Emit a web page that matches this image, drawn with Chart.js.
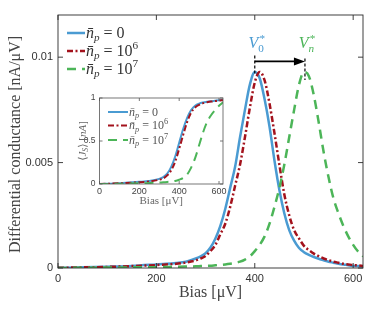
<!DOCTYPE html>
<html><head><meta charset="utf-8">
<script src="https://cdn.jsdelivr.net/npm/chart.js@4/dist/chart.umd.min.js"></script>
<style>
html,body{margin:0;padding:0;background:#fff;width:374px;height:312px;overflow:hidden}
#wrap{position:relative;width:374px;height:312px}
#main{position:absolute;left:0;top:0}
#inset{position:absolute;left:56px;top:88px}
</style></head><body>
<div id="wrap"><canvas id="main" width="374" height="312"></canvas><canvas id="inset" width="180" height="122"></canvas></div>
<script>
// ---------- data ----------
const bias = [0,50,100,150,200,220,240,260,280,290,300,310,320,330,340,350,360,370,380,390,400,410,420,430,440,450,460,470,480,490,500,510,520,530,540,550,560,570,580,590,600,610,620];
const condN0 = [0.00001,0.00003,0.00006,0.0001,0.00017,0.0002,0.00024,0.0003,0.00045,0.00055,0.0007,0.00097,0.0014,0.002,0.0028,0.0038,0.0048,0.0062,0.0075,0.0087,0.0093,0.0090,0.0080,0.0067,0.0051,0.0037,0.0026,0.0018,0.0013,0.00095,0.00075,0.00062,0.00052,0.00044,0.00037,0.0003,0.00025,0.0002,0.00017,0.00013,0.0001,0.00009,0.00007];
const condN6 = [0.00001,0.00003,0.00005,0.00009,0.00014,0.00017,0.0002,0.00026,0.00036,0.00045,0.00057,0.0008,0.0011,0.0016,0.0021,0.0029,0.0039,0.0049,0.0062,0.0076,0.0088,0.0093,0.0089,0.0078,0.0064,0.0049,0.0035,0.0025,0.0018,0.0014,0.00105,0.00085,0.00068,0.00056,0.00045,0.00037,0.0003,0.00025,0.0002,0.00017,0.00014,0.00012,0.0001];
const condN7 = [0,0.00001,0.00002,0.00003,0.00004,0.00005,0.00006,0.00007,0.00008,0.00009,0.0001,0.00011,0.00013,0.00015,0.00017,0.0002,0.00024,0.0003,0.0004,0.00055,0.0008,0.0011,0.0015,0.0021,0.0029,0.0038,0.0049,0.0062,0.0075,0.0087,0.0093,0.0091,0.0082,0.0069,0.0055,0.0043,0.0033,0.0026,0.002,0.0015,0.0011,0.00078,0.00055];

const insetBias = [0,100,200,250,300,320,340,360,380,400,420,440,460,480,500,520,540,560,580,600,620];
const currN0 = [0,0.01,0.025,0.035,0.06,0.08,0.12,0.2,0.32,0.48,0.64,0.77,0.86,0.91,0.935,0.948,0.956,0.963,0.968,0.973,0.977];
const currN6 = [0,0.008,0.02,0.03,0.05,0.065,0.1,0.16,0.26,0.41,0.57,0.72,0.83,0.89,0.92,0.94,0.95,0.958,0.964,0.97,0.975];
const currN7 = [0,0.003,0.008,0.012,0.017,0.02,0.024,0.029,0.036,0.05,0.07,0.11,0.19,0.3,0.45,0.6,0.72,0.8,0.86,0.91,0.95];

const seriesNames = ['n\u0304_p = 0','n\u0304_p = 10^6','n\u0304_p = 10^7'];
const xTicks = [0,200,400,600];
const xTickLabels = ['0','200','400','600'];
const yTicks = [0,0.005,0.01];
const yTickLabels = ['0','0.005','0.01'];
const insetYTicks = [0,0.5,1];
const insetYTickLabels = ['0','0.5','1'];
const peakBias = [400,502];
const peakCond = [0.0093,0.0093];
const peakLabels = ['V_0^*','V_n^*'];
const arrowCond = 0.0098;

// ---------- styles ----------
const COLORS = ['#4a9bd2','#a3121c','#4cb558'];
const DASHES = [[],[6,2.5,2,2.5],[9,6]];
const SERIF = '"Liberation Serif","DejaVu Serif",serif';
const SANS = '"Liberation Sans",Arial,sans-serif';

function parseRich(str){
  const parts=[]; let i=0;
  while(i<str.length){
    const c=str[i];
    if(c==='_'||c==='^'){parts.push({t:str[i+1],mode:c});i+=2;}
    else{let j=i;while(j<str.length&&str[j]!=='_'&&str[j]!=='^')j++;parts.push({t:str.slice(i,j),mode:''});i=j;}
  }
  const runs=[];
  parts.forEach(p=>{
    let cur=null;
    for(const ch of p.t){
      const it = /[A-Za-z]/.test(ch) || (ch==='\u0304' && cur && cur.it);
      if(!cur||cur.it!==it){cur={t:'',it,mode:p.mode,first:!cur};runs.push(cur);}
      cur.t+=ch;
    }
  });
  return runs;
}
function layoutRich(ctx,str,size,cb){
  let cx=0, subStart=null, maxX=0, prevMode='';
  parseRich(str).forEach(r=>{
    const s=r.mode?size*0.7:size;
    const dy=r.mode==='_'?size*0.22:(r.mode==='^'?-size*0.42:0);
    ctx.font=(r.it?'italic ':'')+s+'px '+SERIF;
    if(r.mode==='_'&&prevMode!=='_') subStart=cx;
    if(r.mode==='^'&&prevMode==='_'&&subStart!==null){cx=subStart+size*0.08;}
    if(cb) cb(r,cx,dy);
    cx+=ctx.measureText(r.t).width;
    maxX=Math.max(maxX,cx);
    if(r.mode==='^'&&prevMode==='_') cx=maxX;
    prevMode=r.mode;
  });
  return maxX;
}
function richWidth(ctx,str,size){ctx.save();const w=layoutRich(ctx,str,size,null);ctx.restore();return w;}
function drawRich(ctx,str,x,y,size,color){
  ctx.save();ctx.fillStyle=color;ctx.textBaseline='alphabetic';ctx.textAlign='left';
  layoutRich(ctx,str,size,(r,cx,dy)=>{ctx.fillText(r.t,x+cx,y+dy);});
  ctx.restore();
}
function drawLegend(ctx,x0,x1,tx,ys,size,lw,color){
  seriesNames.forEach((name,i)=>{
    ctx.save();ctx.strokeStyle=COLORS[i];ctx.lineWidth=lw;ctx.setLineDash(DASHES[i]);
    ctx.beginPath();ctx.moveTo(x0,ys[i]);ctx.lineTo(x1,ys[i]);ctx.stroke();ctx.restore();
    drawRich(ctx,name,tx,ys[i]+size*0.3,size,color);
  });
}

const framePlugin = {
  id:'frame',
  afterDatasetsDraw(chart,args,o){
    const {ctx,chartArea:a,scales:{x,y}}=chart;
    ctx.save();
    ctx.strokeStyle=o.color;ctx.lineWidth=o.lw;
    ctx.strokeRect(a.left,a.top,a.right-a.left,a.bottom-a.top);
    ctx.beginPath();
    x.ticks.forEach(t=>{const px=x.getPixelForValue(t.value);
      ctx.moveTo(px,a.bottom);ctx.lineTo(px,a.bottom-o.len);
      ctx.moveTo(px,a.top);ctx.lineTo(px,a.top+o.len);});
    y.ticks.forEach(t=>{const py=y.getPixelForValue(t.value);
      ctx.moveTo(a.left,py);ctx.lineTo(a.left+o.len,py);
      ctx.moveTo(a.right,py);ctx.lineTo(a.right-o.len,py);});
    ctx.stroke();
    ctx.restore();
  }
};
const bgPlugin = {
  id:'bg',
  beforeDraw(chart,args,o){
    if(!o.fill) return;
    const {ctx,chartArea:a}=chart;
    ctx.save();ctx.fillStyle='#fff';ctx.fillRect(a.left,a.top,a.right-a.left,a.bottom-a.top);ctx.restore();
  }
};

function makeDatasets(xs,ys,lw){
  return ys.map((vals,i)=>({
    label:seriesNames[i],
    data:xs.map((b,k)=>({x:b,y:vals[k]})),
    borderColor:COLORS[i],borderWidth:lw,borderDash:DASHES[i],
    pointRadius:0,fill:false,cubicInterpolationMode:'monotone',order:3-i
  }));
}

// ---------- main chart ----------
const mainDecor = {
  id:'mainDecor',
  afterDraw(chart){
    const {ctx,chartArea:a,scales:{x,y}}=chart;
    ctx.save();ctx.fillStyle='#444';ctx.font='16px '+SERIF;ctx.textAlign='center';ctx.textBaseline='middle';
    ctx.fillText('Bias [\u03BCV]',(a.left+a.right)/2,293);
    ctx.translate(16,(a.top+a.bottom)/2+3);ctx.rotate(-Math.PI/2);
    ctx.fillText('Differential conductance [nA/\u03BCV]',0,0);
    ctx.restore();
    drawLegend(ctx,67,85,86,[33,51,69],16,2.5,'#333');
    const ay=y.getPixelForValue(arrowCond);
    const px=peakBias.map(b=>x.getPixelForValue(b));
    const pc=[COLORS[0],COLORS[2]];
    peakLabels.forEach((l,i)=>{
      const w=richWidth(ctx,l,16);
      drawRich(ctx,l,px[i]-w/2+2,ay-13,16,pc[i]);
    });
    ctx.save();ctx.strokeStyle='#000';ctx.lineWidth=1.2;ctx.setLineDash([3,2]);
    ctx.beginPath();
    ctx.moveTo(px[0],ay-6);ctx.lineTo(px[0],y.getPixelForValue(peakCond[0])+2);
    ctx.moveTo(px[1],ay-3);ctx.lineTo(px[1],y.getPixelForValue(peakCond[1])+8);
    ctx.stroke();
    ctx.setLineDash([]);ctx.lineWidth=1.6;
    ctx.beginPath();ctx.moveTo(px[0],ay);ctx.lineTo(px[1]-8,ay);ctx.stroke();
    ctx.fillStyle='#000';ctx.beginPath();ctx.moveTo(px[1],ay);ctx.lineTo(px[1]-11,ay-4);ctx.lineTo(px[1]-11,ay+4);ctx.closePath();ctx.fill();
    ctx.restore();
  }
};

new Chart(document.getElementById('main'),{
  type:'line',
  data:{datasets:makeDatasets(bias,[condN0,condN6,condN7],2.5)},
  options:{
    responsive:false,animation:false,devicePixelRatio:1,
    layout:{padding:{top:15,right:11,left:0,bottom:0}},
    plugins:{legend:{display:false},tooltip:{enabled:false},frame:{color:'#2b2b2b',lw:0.9,len:5}},
    scales:{
      x:{type:'linear',min:0,max:620,
        afterFit(s){s.height=44;},
        afterBuildTicks(s){s.ticks=xTicks.map(v=>({value:v}));},
        ticks:{padding:4,color:'#333',font:{family:SANS,size:11},maxRotation:0,callback:(v)=>xTickLabels[xTicks.indexOf(v)]},
        grid:{display:false,drawTicks:false},border:{display:false}},
      y:{type:'linear',min:0,max:0.012,
        afterFit(s){s.width=58;},
        afterBuildTicks(s){s.ticks=yTicks.map(v=>({value:v}));},
        ticks:{padding:5,color:'#333',font:{family:SANS,size:11},callback:(v)=>yTickLabels[yTicks.indexOf(v)]},
        grid:{display:false,drawTicks:false},border:{display:false}}
    }
  },
  plugins:[framePlugin,mainDecor]
});

// ---------- inset chart ----------
const insetDecor = {
  id:'insetDecor',
  afterDraw(chart){
    const {ctx,chartArea:a}=chart;
    ctx.save();ctx.fillStyle='#666';ctx.font='11px '+SERIF;ctx.textAlign='center';ctx.textBaseline='middle';
    ctx.fillText('Bias [\u03BCV]',(a.left+a.right)/2,113);
    ctx.restore();
    ctx.save();ctx.translate(26,(a.top+a.bottom)/2);ctx.rotate(-Math.PI/2);
    const lab='\u27E8J_S\u27E9 [nA]';
    const w=richWidth(ctx,lab,11);
    drawRich(ctx,lab,-w/2,4,11,'#666');
    ctx.restore();
    drawLegend(ctx,52,72,73,[24,37.5,52],12,2,'#555');
  }
};

new Chart(document.getElementById('inset'),{
  type:'line',
  data:{datasets:makeDatasets(insetBias,[currN0,currN6,currN7],2)},
  options:{
    responsive:false,animation:false,devicePixelRatio:1,
    layout:{padding:{top:10,right:13,left:0,bottom:0}},
    plugins:{legend:{display:false},tooltip:{enabled:false},frame:{color:'#555',lw:0.8,len:3},bg:{fill:true}},
    scales:{
      x:{type:'linear',min:0,max:620,
        afterFit(s){s.height=26;},
        afterBuildTicks(s){s.ticks=xTicks.map(v=>({value:v}));},
        ticks:{padding:2,color:'#444',font:{family:SANS,size:9},maxRotation:0,callback:(v)=>xTickLabels[xTicks.indexOf(v)]},
        grid:{display:false,drawTicks:false},border:{display:false}},
      y:{type:'linear',min:0,max:1,
        afterFit(s){s.width=43.5;},
        afterBuildTicks(s){s.ticks=insetYTicks.map(v=>({value:v}));},
        ticks:{padding:4,color:'#444',font:{family:SANS,size:8.5},callback:(v)=>insetYTickLabels[insetYTicks.indexOf(v)]},
        grid:{display:false,drawTicks:false},border:{display:false}}
    }
  },
  plugins:[bgPlugin,framePlugin,insetDecor]
});
</script>
</body></html>
